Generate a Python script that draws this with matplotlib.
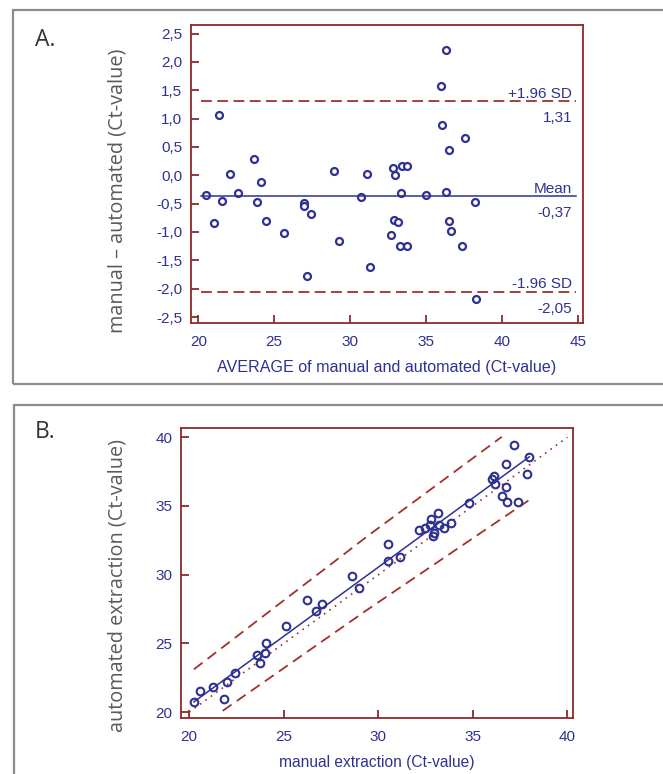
import matplotlib
matplotlib.use("Agg")
from matplotlib import pyplot as plt
from matplotlib.patches import Rectangle

# --- panel A: Bland-Altman (average vs difference) ---
avg_a = [20.49, 21.01, 21.34, 21.54, 22.06, 22.61, 23.66, 23.86, 24.10, 24.47,
         25.64, 26.98, 26.98, 27.13, 27.39, 28.95, 29.26, 30.71, 31.14, 31.30,
         32.66, 32.81, 32.94, 32.88, 33.18, 33.34, 33.38, 33.75, 33.31, 33.77,
         36.28, 35.97, 36.06, 37.55, 36.51, 34.97, 36.32, 38.22, 36.48, 36.62,
         37.37, 38.27]
diff_a = [-0.35, -0.85, 1.06, -0.45, 0.02, -0.32, 0.29, -0.47, -0.12, -0.80,
          -1.02, -0.49, -0.55, -1.77, -0.69, 0.08, -1.16, -0.38, 0.02, -1.62,
          -1.05, 0.12, 0.00, -0.79, -0.83, -0.32, 0.17, 0.16, -1.25, -1.25,
          2.21, 1.57, 0.88, 0.65, 0.44, -0.34, -0.30, -0.47, -0.81, -0.99,
          -1.25, -2.19]
mean_diff = -0.37
upper_loa = 1.31
lower_loa = -2.05
yticks_a = [2.5, 2.0, 1.5, 1.0, 0.5, 0.0, -0.5, -1.0, -1.5, -2.0, -2.5]
ytick_labels_a = ["2,5", "2,0", "1,5", "1,0", "0,5", "0,0", "-0,5", "-1,0", "-1,5", "-2,0", "-2,5"]
xticks_a = [20, 25, 30, 35, 40, 45]

# --- panel B: manual vs automated scatter ---
manual_b = [20.26, 20.57, 21.24, 21.84, 22.01, 22.40, 23.57, 23.74, 23.99, 24.04,
            25.10, 26.21, 26.69, 27.02, 28.63, 29.00, 30.51, 30.53, 31.15, 32.14,
            32.46, 32.77, 32.74, 33.14, 33.20, 32.95, 32.88, 33.49, 33.83, 34.80,
            36.03, 36.14, 36.17, 36.76, 37.20, 37.99, 37.87, 36.76, 36.55, 36.79,
            37.39]
automated_b = [20.77, 21.55, 21.86, 20.97, 22.20, 22.83, 24.16, 23.60, 24.29, 25.01,
               26.27, 28.14, 27.36, 27.87, 29.91, 29.06, 32.21, 31.00, 31.26, 33.27,
               33.37, 34.07, 33.63, 34.48, 33.59, 33.05, 32.79, 33.42, 33.76, 35.21,
               36.95, 37.20, 36.57, 38.04, 39.45, 38.53, 37.29, 36.40, 35.74, 35.30,
               35.28]
fit_x = [20.25, 37.99]
fit_y = [20.75, 38.58]
identity_x = [20.0, 40.0]
identity_y = [20.0, 40.0]
upper_band_x = [20.25, 29.47, 36.53]
upper_band_y = [23.12, 32.85, 40.03]
lower_band_x = [21.77, 29.47, 38.03]
lower_band_y = [20.10, 27.50, 35.48]
ticks_b = [20, 25, 30, 35, 40]

navy = "#2e3192"
red = "#8b2a2a"
dash_red = "#a3302b"
gray_lab = "#5a5a5a"
tick_font = "Liberation Sans"
fs = 11

fig = plt.figure(figsize=(6.63, 7.74), dpi=100)

# outer panel boxes
fig.add_artist(Rectangle((13 / 663, 1 - 384 / 774), 1.2, (384 - 10) / 774,
                         transform=fig.transFigure, fill=False, ec="#8c8c8c", lw=1.6))
fig.add_artist(Rectangle((14 / 663, -0.2), 1.2, 0.2 + 1 - 405 / 774,
                         transform=fig.transFigure, fill=False, ec="#8c8c8c", lw=1.6))


def style_axes(ax):
    for s in ax.spines.values():
        s.set_color(red)
        s.set_linewidth(1.3)
    ax.tick_params(direction="in", length=6, width=1.3, color=red,
                   labelcolor=navy, labelsize=fs)
    ax.tick_params(axis="x", pad=9)
    ax.tick_params(axis="y", pad=6)
    for lab in ax.get_xticklabels() + ax.get_yticklabels():
        lab.set_family(tick_font)


# ---- A ----
ax1 = fig.add_axes([190.7 / 663, 1 - 322.7 / 774, (583.3 - 190.7) / 663, (322.7 - 25) / 774])
ax1.plot(avg_a, diff_a, "o", ms=5, mfc="white", mec=navy, mew=1.6, ls="none")
ax1.plot([20.2, 44.9], [mean_diff, mean_diff], color=navy, lw=1.1)
ax1.plot([20.2, 44.9], [upper_loa, upper_loa], color=dash_red, lw=1.3, dashes=(6, 3))
ax1.plot([20.2, 44.9], [lower_loa, lower_loa], color=dash_red, lw=1.3, dashes=(6, 3))
ax1.set_xlim(19.5, 45.35)
ax1.set_ylim(-2.6, 2.65)
ax1.set_xticks(xticks_a)
ax1.set_yticks(yticks_a)
ax1.set_yticklabels(ytick_labels_a)
style_axes(ax1)

tx = 44.63
for yv, top, bottom in [(upper_loa, "+1.96 SD", "1,31"),
                        (mean_diff, "Mean", "-0,37"),
                        (lower_loa, "-1.96 SD", "-2,05")]:
    ax1.text(tx, yv + 0.13, top, ha="right", va="center", color=navy,
             fontsize=fs, family=tick_font)
    ax1.text(tx, yv - 0.3, bottom, ha="right", va="center", color=navy,
             fontsize=fs, family=tick_font)

ax1.set_xlabel("AVERAGE of manual and automated (Ct-value)", color=navy,
               fontsize=11.6, family=tick_font, labelpad=8)
fig.text(117 / 663, 1 - 191 / 774, "manual \u2013 automated (Ct-value)", rotation=90,
         ha="center", va="center", color=gray_lab, fontsize=14.3, family="Open Sans")
fig.text(35 / 663, 1 - 40 / 774, "A.", ha="left", va="center", color="#333333",
         fontsize=16.5, family="Open Sans")

# ---- B ----
ax2 = fig.add_axes([180.7 / 663, 1 - 717.7 / 774, (572.7 - 180.7) / 663, (717.7 - 428.3) / 774])
ax2.plot(identity_x, identity_y, color=dash_red, lw=1.2, ls=(0, (1, 3)))
ax2.plot(upper_band_x, upper_band_y, color=dash_red, lw=1.3, dashes=(6, 3.5))
ax2.plot(lower_band_x, lower_band_y, color=dash_red, lw=1.3, dashes=(6, 3.5))
ax2.plot(fit_x, fit_y, color=navy, lw=1.1)
ax2.plot(manual_b, automated_b, "o", ms=5.5, mfc="none", mec=navy, mew=1.5, ls="none")
ax2.set_xlim(19.55, 40.28)
ax2.set_ylim(19.6, 40.65)
ax2.set_xticks(ticks_b)
ax2.set_yticks(ticks_b)
style_axes(ax2)

ax2.set_xlabel("manual extraction (Ct-value)", color=navy, fontsize=11.2,
               family=tick_font, labelpad=8)
fig.text(118 / 663, 1 - 585 / 774, "automated extraction (Ct-value)", rotation=90,
         ha="center", va="center", color=gray_lab, fontsize=14.3, family="Open Sans")
fig.text(35 / 663, 1 - 432 / 774, "B.", ha="left", va="center", color="#333333",
         fontsize=16.5, family="Open Sans")

fig.savefig("out.png", dpi=100)
